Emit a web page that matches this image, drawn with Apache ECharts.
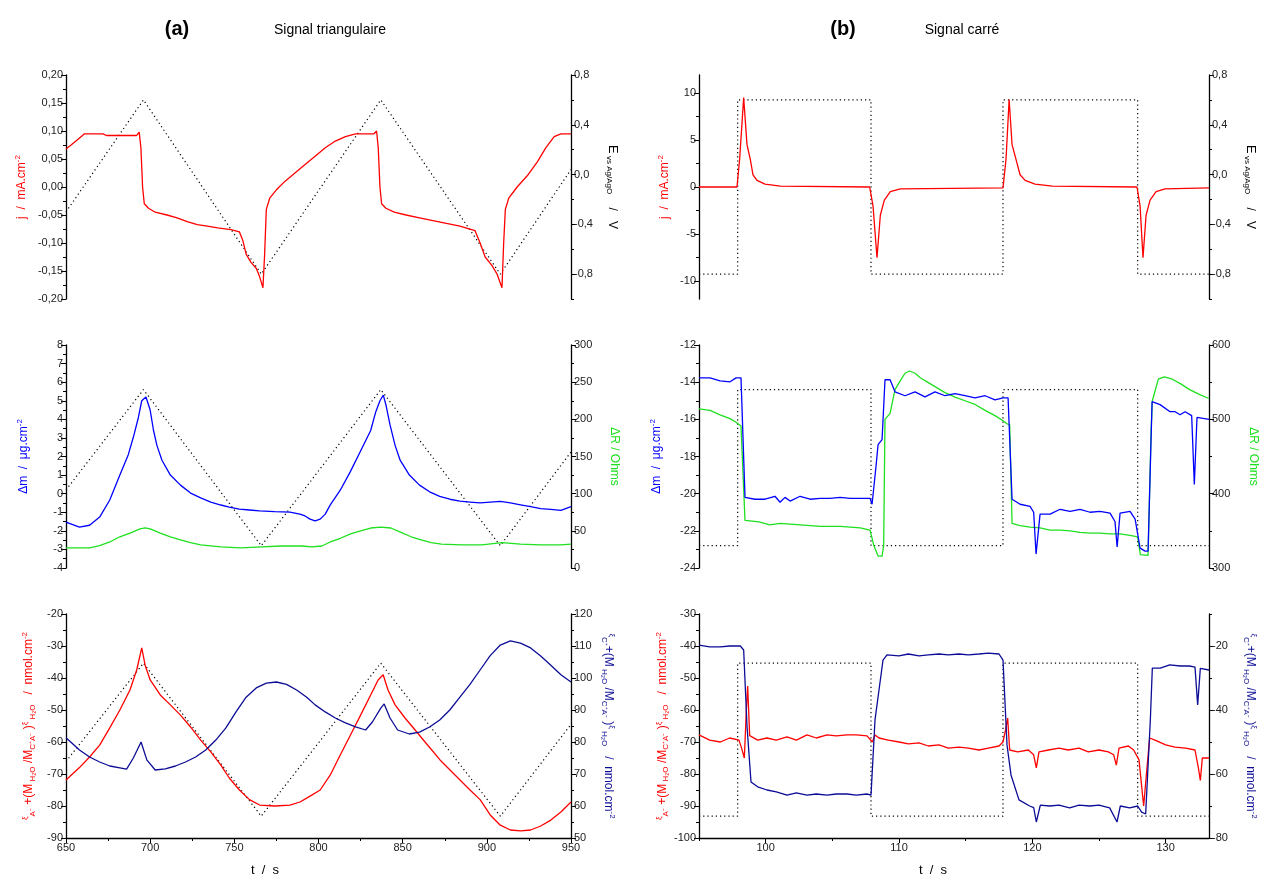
<!DOCTYPE html>
<html><head><meta charset="utf-8">
<script src="https://cdn.jsdelivr.net/npm/echarts@6/dist/echarts.min.js"></script>
<style>html,body{margin:0;padding:0;background:#fff}#c{width:1262px;height:875px}</style>
</head><body><div id="c"></div>
<script>
// ---------------- DATA ----------------
// (a) triangular signal, t in s
const triE = [[650,-0.3],[696,0.6],[766,-0.8],[837,0.6],[908,-0.8],[950,0.04]];
const triJ = [[650,0.068],[653,0.075],[657,0.085],[661,0.095],[672,0.095],[674,0.092],[692,0.092],[693.5,0.098],[694.5,0.07],[695.5,0.0],[696.5,-0.03],[699,-0.038],[703,-0.045],[710,-0.05],[716,-0.055],[722,-0.062],[728,-0.067],[734,-0.07],[740,-0.073],[748,-0.076],[753,-0.08],[755,-0.095],[757,-0.12],[760,-0.135],[763,-0.145],[765,-0.16],[767,-0.18],[768,-0.12],[769,-0.04],[771,-0.02],[775,-0.005],[780,0.01],[786,0.025],[792,0.04],[798,0.055],[804,0.07],[810,0.082],[816,0.09],[822,0.095],[833,0.095],[834.5,0.1],[835.5,0.07],[836.5,0.0],[837.5,-0.03],[840,-0.038],[845,-0.045],[852,-0.05],[860,-0.055],[868,-0.06],[876,-0.065],[884,-0.07],[893,-0.078],[896,-0.1],[899,-0.125],[903,-0.14],[906,-0.155],[909,-0.18],[910,-0.1],[911,-0.04],[913,-0.02],[918,0.0],[924,0.02],[930,0.045],[935,0.07],[940,0.09],[944,0.095],[950,0.095]];
const triDm = [[650,-1.53],[658,-1.8],[664,-1.7],[670,-1.26],[676,-0.34],[682,1.0],[687,2.1],[690.5,3.2],[693,4.1],[695,5.0],[697.5,5.2],[700,4.5],[702,3.4],[704,2.6],[707,1.8],[712,1.0],[718,0.46],[724,0.03],[730,-0.23],[736,-0.45],[742,-0.61],[747,-0.72],[753,-0.83],[759,-0.88],[765,-0.93],[774,-0.97],[783,-0.99],[789,-1.1],[792,-1.2],[795,-1.37],[798,-1.47],[801,-1.37],[804,-1.1],[807,-0.6],[813,0.2],[819,1.2],[825,2.3],[831,3.4],[834,4.4],[836.5,5.0],[838.5,5.3],[840,4.8],[842.5,3.7],[845.5,2.6],[848.5,1.8],[854,1.0],[860,0.46],[866,0.1],[872,-0.15],[878,-0.3],[884,-0.4],[890,-0.45],[896,-0.5],[902,-0.45],[908,-0.42],[914,-0.5],[920,-0.6],[926,-0.7],[932,-0.8],[938,-0.85],[944,-0.9],[950,-0.7]];
const triDR = [[650,27],[664,27],[670,30],[676,35],[682,42],[688,47],[694,52.5],[697,54],[700,52.5],[706,47],[712,42],[718,38],[724,34],[730,31],[742,28.3],[754,27],[766,28.3],[778,29.6],[790,29.6],[796,28.3],[802,29.6],[807,35],[813,40],[819,46],[825,50],[831,53.8],[837,55],[843,53.8],[849,48],[855,42],[861,38],[867,34],[873,32],[885,31],[897,31],[909,34],[920,32],[932,31],[944,31],[950,32]];
const triXiA = [[650,-71.9],[658,-68],[664,-64.7],[670,-61],[676,-55.6],[682,-50],[688,-43.75],[692,-37.5],[695,-30.6],[697,-36],[700,-40.6],[706,-45.3],[712,-48.4],[718,-51.6],[724,-55.3],[730,-59.4],[736,-63.1],[742,-67.2],[747,-71.25],[753,-75],[759,-78],[765,-79.7],[774,-80],[783,-79.7],[789,-78.75],[795,-76.9],[801,-75],[807,-70.3],[813,-64],[819,-57.8],[825,-51.6],[831,-45.3],[835.4,-40.6],[838.4,-39],[841.3,-43.75],[845.5,-48.4],[851.4,-52.5],[857.4,-56.25],[863.3,-60],[872.2,-65.6],[881.1,-70.3],[890,-75],[896,-78],[902,-82.8],[908,-86],[914,-87.5],[920,-87.8],[926,-87.5],[932,-86.25],[938,-84.4],[944,-81.9],[950,-78.75]];
const triXiC = [[650,81.3],[658,77.5],[664,75.3],[670,73.75],[676,72.5],[682,71.9],[686,71.5],[690,75],[694.6,80],[698,74.4],[703,71.25],[709,71.6],[715,72.5],[721,73.75],[727,75.3],[733,77.5],[739,80.6],[745,84.4],[751,89.4],[757,94],[763,96.9],[769,98.4],[775,98.75],[781,98],[787,96.25],[793,94],[798,91.6],[804,89.4],[810,87.5],[816,86],[822,84.7],[828,83.75],[832,86.25],[837,90.6],[839,91.9],[842.5,87.5],[847,83.75],[854,82.5],[860,83.1],[866,84.7],[872,86.9],[878,90],[884,94],[890,98],[896,102.5],[902,107],[908,110.3],[914,111.6],[920,110.9],[926,109.4],[932,106.9],[938,104],[944,101],[950,98.75]];

// (b) square signal
const sqE = [[95,-0.8],[97.9,-0.8],[97.9,0.6],[107.9,0.6],[107.9,-0.8],[117.8,-0.8],[117.8,0.6],[127.9,0.6],[127.9,-0.8],[133.25,-0.8]];
const sqJ = [[95,0],[97.85,0],[98.05,3],[98.35,9.5],[98.6,4.5],[98.85,2.9],[99.05,1.3],[99.35,0.7],[99.95,0.3],[101.1,0.1],[107.8,0.0],[108.05,-2],[108.35,-7.5],[108.6,-3],[108.9,-1.4],[109.35,-0.5],[110.1,-0.2],[117.8,-0.1],[118.03,3],[118.26,9.3],[118.48,4.5],[118.78,2.9],[119.08,1.3],[119.46,0.7],[120.2,0.3],[121.5,0.1],[127.85,0.0],[128.08,-2],[128.3,-7.5],[128.53,-3],[128.83,-1.4],[129.28,-0.5],[129.95,-0.2],[133.25,-0.1]];
const sqDm = [[95,-13.77],[95.83,-13.77],[96.58,-13.93],[97.33,-13.98],[97.78,-13.77],[98.15,-13.77],[98.45,-20.2],[99.2,-20.3],[99.95,-20.3],[100.7,-20.14],[101.08,-20.46],[101.45,-20.2],[101.83,-20.4],[102.58,-20.14],[103.33,-20.3],[104.08,-20.25],[104.83,-20.25],[105.58,-20.2],[106.33,-20.25],[107.08,-20.25],[107.83,-20.25],[107.98,-20.57],[108.28,-18.5],[108.43,-17.36],[108.73,-17.09],[108.95,-13.87],[109.33,-13.87],[109.7,-14.52],[110.45,-14.73],[111.2,-14.52],[111.95,-14.79],[112.7,-14.52],[113.45,-14.73],[114.2,-14.62],[114.95,-14.73],[115.7,-14.84],[116.46,-14.73],[117.2,-14.95],[117.8,-14.84],[118.18,-14.84],[118.48,-20.3],[119.08,-20.57],[119.83,-20.68],[120.1,-21],[120.28,-23.25],[120.58,-21.1],[121.33,-21.1],[122.08,-20.84],[122.83,-20.95],[123.58,-20.84],[124.33,-21.0],[125.08,-20.95],[125.83,-21.05],[126.2,-21.5],[126.36,-22.87],[126.58,-21.05],[127.33,-20.95],[127.71,-21.37],[128.08,-22.93],[128.46,-23.09],[128.68,-23.09],[128.98,-15.05],[129.58,-15.21],[130.33,-15.59],[130.71,-15.59],[131.08,-15.75],[131.46,-15.59],[131.95,-15.8],[132.15,-19.5],[132.35,-15.9],[133.25,-16.0]];
const sqDR = [[95,514],[95.83,512],[96.58,506],[97.33,501],[97.78,496],[98.15,491],[98.45,364],[99.5,362],[100.3,358],[101.1,360],[102.6,358],[104.1,356],[105.6,356],[107.1,354],[107.83,351],[108.1,331],[108.43,316],[108.73,316],[108.85,330],[108.95,500],[109.33,508],[109.7,540],[110.1,552],[110.45,562],[110.8,565],[111.2,562],[111.6,556],[111.95,552],[112.7,544],[113.45,536],[114.2,530],[114.95,525],[115.7,520],[116.46,512],[117.2,505],[117.8,498],[118.1,494],[118.3,493],[118.48,360],[119.08,357],[119.83,355],[120.58,354],[121.33,351],[122.08,351],[122.83,350],[123.58,348],[124.33,347],[125.08,347],[125.83,346],[126.58,346],[127.33,344],[127.9,342],[128.1,318],[128.68,317],[128.9,480],[129.0,525],[129.45,554],[129.9,557],[130.5,554],[131.1,548],[131.8,540],[132.6,533],[133.25,528]];
const sqXiA = [[95,-67.8],[95.8,-69.4],[96.6,-70],[97.3,-68.75],[98.0,-69.4],[98.2,-72],[98.4,-75],[98.55,-60],[98.65,-52.5],[98.8,-68],[99.4,-69.4],[100.1,-68.75],[100.8,-69.4],[101.6,-68.4],[102.3,-69.4],[103.1,-67.8],[103.8,-68.75],[104.6,-67.8],[105.3,-68.1],[106.1,-67.8],[106.8,-67.8],[107.6,-68.1],[108.0,-70],[108.2,-67.8],[108.5,-68.75],[109.2,-69.4],[110,-70],[110.7,-70.6],[111.5,-70.3],[112.2,-71.25],[113,-70.9],[113.7,-71.9],[114.5,-71.6],[115.2,-71.9],[116,-72.5],[116.7,-71.9],[117.5,-71.25],[117.8,-70],[118.0,-66],[118.15,-62.5],[118.3,-72.5],[118.9,-73.1],[119.7,-72.5],[120.1,-74],[120.3,-78.1],[120.5,-73.1],[121.2,-72.5],[122,-71.9],[122.7,-72.5],[123.5,-71.9],[124.2,-73.1],[125,-72.5],[125.7,-73.1],[126.1,-74],[126.3,-77.2],[126.5,-71.9],[127.2,-71.25],[127.6,-72.5],[128.0,-75.6],[128.35,-90],[128.6,-78],[128.8,-68.75],[129.2,-69.4],[130,-70.9],[130.7,-71.6],[131.5,-71.9],[132.2,-72.5],[132.45,-78],[132.6,-82],[132.75,-75],[133.25,-75]];
const sqXiC = [[95,-19.7],[95.8,-20.3],[96.6,-20.3],[97.3,-20],[98.1,-20],[98.35,-21.25],[98.6,-45],[98.9,-62.5],[99.4,-64],[100.1,-65],[100.8,-65.6],[101.6,-66.6],[102.3,-65.9],[103.1,-66.6],[103.8,-66.25],[104.6,-66.6],[105.3,-66.25],[106.1,-66.25],[106.8,-66.6],[107.6,-66.25],[107.9,-66.6],[108.2,-43.1],[108.5,-33.75],[108.8,-24.4],[109.1,-22.8],[110,-23.1],[110.7,-22.5],[111.5,-23.1],[112.2,-22.8],[113,-22.5],[113.7,-22.8],[114.5,-22.5],[115.2,-22.8],[116,-22.5],[116.7,-22.2],[117.5,-22.5],[117.8,-24.4],[118.1,-50.9],[118.4,-60.3],[119,-68.1],[119.8,-70],[120.1,-70.5],[120.3,-75],[120.6,-69.7],[121.3,-70],[122,-69.7],[122.8,-70.6],[123.5,-69.7],[124.3,-70],[125,-69.7],[125.8,-70.6],[126.35,-75],[126.6,-70],[127.3,-70.6],[127.9,-70],[128.2,-71.9],[128.5,-72.5],[128.85,-43.1],[129.0,-26.9],[129.6,-26.9],[130.3,-25.9],[131.1,-26.25],[131.8,-26.25],[132.2,-26.6],[132.4,-38.4],[132.6,-27],[133.25,-27.5]];

// tick labels (major) and minor tick positions
const xTriLabels = [650,700,750,800,850,900,950];
const xTriMinor = [675,725,775,825,875,925];
const xSqLabels = [100,110,120,130];
const xSqMinor = [95,105,115,125];
const jTriLabels = [-0.2,-0.15,-0.1,-0.05,0,0.05,0.1,0.15,0.2];
const jTriMinor = [-0.175,-0.125,-0.075,-0.025,0.025,0.075,0.125,0.175];
const eLabels = [-0.8,-0.4,0,0.4,0.8];
const eMinor = [-1.0,-0.6,-0.2,0.2,0.6];
const dmTriLabels = [-4,-3,-2,-1,0,1,2,3,4,5,6,7,8];
const dmTriMinor = [-3.5,-2.5,-1.5,-0.5,0.5,1.5,2.5,3.5,4.5,5.5,6.5,7.5];
const drTriLabels = [0,50,100,150,200,250,300];
const drTriMinor = [25,75,125,175,225,275];
const xiATriLabels = [-90,-80,-70,-60,-50,-40,-30,-20];
const xiATriMinor = [-85,-75,-65,-55,-45,-35,-25];
const xiCTriLabels = [50,60,70,80,90,100,110,120];
const xiCTriMinor = [55,65,75,85,95,105,115];
const jSqLabels = [-10,-5,0,5,10];
const jSqMinor = [-7.5,-2.5,2.5,7.5];
const dmSqLabels = [-24,-22,-20,-18,-16,-14,-12];
const dmSqMinor = [-23,-21,-19,-17,-15,-13];
const drSqLabels = [300,400,500,600];
const drSqMinor = [350,450,550];
const xiASqLabels = [-100,-90,-80,-70,-60,-50,-40,-30];
const xiASqMinor = [-95,-85,-75,-65,-55,-45,-35];
const xiCSqLabels = [-80,-60,-40,-20];
const xiCSqMinor = [-70,-50,-30,-10];

// ---------------- STYLE / LAYOUT ----------------
const FONT = 'Liberation Sans, Arial, Helvetica, sans-serif';
const RED = '#ff0000', BLUE = '#0000ff', NAVY = '#0c0c96', GREEN = '#1ee01e';
const colL = {left: 66, width: 505}, colR = {left: 699, width: 510};
const rows = [{top: 75, height: 224}, {top: 345, height: 223}, {top: 614, height: 224}];
const grids = [];
[colL, colR].forEach(c => rows.forEach(r => grids.push({left: c.left, width: c.width, top: r.top, height: r.height, containLabel: false})));

function fmt(v, dec) { if (Math.abs(v) < 1e-9) v = 0; return dec ? v.toFixed(dec).replace('.', ',') : String(v); }

function richFor(color) {
  return {
    m: {fontSize: 12, color, fontFamily: FONT},
    b: {fontSize: 13, color, fontFamily: FONT},
    sup: {fontSize: 8, color, fontFamily: FONT, padding: [0, 0, 8, 0]},
    s: {fontSize: 8, color, fontFamily: FONT, padding: [0, 0, 8, 0]},
    sub: {fontSize: 8, color, fontFamily: FONT, padding: [7, 0, 0, 0]}
  };
}

const yAxes = [];
function addY(grid, pos, min, max, labels, minor, dec, name, color, gap) {
  const idx = yAxes.length;
  yAxes.push({
    type: 'value', gridIndex: grid, position: pos, min, max,
    splitLine: {show: false},
    axisLine: {show: true, onZero: false, lineStyle: {color: '#000', width: 1.3}},
    axisTick: {show: true, customValues: labels, length: 5, lineStyle: {color: '#000', width: 1}},
    axisLabel: {show: true, customValues: labels, fontSize: 11, color: '#222', fontFamily: FONT, margin: 3,
      formatter: v => fmt(v, dec)},
    name, nameLocation: 'middle', nameGap: gap, nameRotate: pos === 'left' ? 90 : -90,
    nameTextStyle: {color, fontSize: 12, fontFamily: FONT, rich: richFor(color)}
  });
  yAxes.push({
    type: 'value', gridIndex: grid, position: pos, min, max,
    splitLine: {show: false}, axisLine: {show: false, onZero: false},
    axisTick: {show: true, customValues: minor, length: 3, lineStyle: {color: '#000', width: 1}},
    axisLabel: {show: false}
  });
  return idx;
}
function addHidden(grid, min, max) {
  const idx = yAxes.length;
  yAxes.push({type: 'value', gridIndex: grid, min, max, show: false, splitLine: {show: false}, axisLine: {onZero: false}});
  return idx;
}

const jName = '{m|j  /  mA.cm}{sup|-2}';
const eName = '{b|E}{sub| vs Ag/AgO}{m|    /   V}';
const dmName = '{m|Δm  /  μg.cm}{sup|-2}';
const drName = '{m|ΔR / Ohms}';
const xiAName = '{s|ξ}{sub|A⁻}{m| +(M}{sub| H₂O}{m| /M}{sub|C⁺A⁻}{m| )}{s|ξ}{sub| H₂O}{m|   /  nmol.cm}{sup|-2}';
const xiCName = '{s|ξ}{sub|C⁺}{m|+(M}{sub| H₂O}{m| /M}{sub|C⁺A⁻}{m| )}{s|ξ}{sub| H₂O}{m|   /  nmol.cm}{sup|-2}';

const yA_j = addY(0, 'left', -0.2, 0.2, jTriLabels, jTriMinor, 2, jName, RED, 36);
const yA_e = addY(0, 'right', -1.0, 0.8, eLabels, eMinor, 1, eName, '#000', 34);
const yA_dm = addY(1, 'left', -4, 8, dmTriLabels, dmTriMinor, 0, dmName, BLUE, 34);
const yA_dr = addY(1, 'right', 0, 300, drTriLabels, drTriMinor, 0, drName, GREEN, 37);
const yA_e1 = addHidden(1, -1.0, 1.0);
const yA_xa = addY(2, 'left', -90, -20, xiATriLabels, xiATriMinor, 0, xiAName, RED, 29);
const yA_xc = addY(2, 'right', 50, 120, xiCTriLabels, xiCTriMinor, 0, xiCName, NAVY, 29);
const yA_e2 = addHidden(2, -1.0, 1.05);
const yB_j = addY(3, 'left', -11.9, 11.9, jSqLabels, jSqMinor, 0, jName, RED, 26);
const yB_e = addY(3, 'right', -1.0, 0.8, eLabels, eMinor, 1, eName, '#000', 34);
const yB_dm = addY(4, 'left', -24, -12, dmSqLabels, dmSqMinor, 0, dmName, BLUE, 34);
const yB_dr = addY(4, 'right', 300, 600, drSqLabels, drSqMinor, 0, drName, GREEN, 38);
const yB_e1 = addHidden(4, -1.0, 1.0);
const yB_xa = addY(5, 'left', -100, -30, xiASqLabels, xiASqMinor, 0, xiAName, RED, 26);
const yB_xc = addY(5, 'right', -80, -10, xiCSqLabels, xiCSqMinor, 0, xiCName, NAVY, 33);
const yB_e2 = addHidden(5, -1.0, 1.05);

const xAxes = [];
function addX(grid, min, max, labels, minor, shown) {
  const idx = xAxes.length;
  xAxes.push({
    type: 'value', gridIndex: grid, min, max, position: 'bottom', show: shown,
    splitLine: {show: false},
    axisLine: {show: true, onZero: false, lineStyle: {color: '#000', width: 1.3}},
    axisTick: {show: true, customValues: labels, length: 5, lineStyle: {color: '#000'}},
    axisLabel: {customValues: labels, fontSize: 11, color: '#222', fontFamily: FONT, margin: 4}
  });
  if (shown) xAxes.push({
    type: 'value', gridIndex: grid, min, max, position: 'bottom',
    splitLine: {show: false}, axisLine: {show: false, onZero: false},
    axisTick: {show: true, customValues: minor, length: 3, lineStyle: {color: '#000'}},
    axisLabel: {show: false}
  });
  return idx;
}
const xA0 = addX(0, 650, 950, xTriLabels, xTriMinor, false);
const xA1 = addX(1, 650, 950, xTriLabels, xTriMinor, false);
const xA2 = addX(2, 650, 950, xTriLabels, xTriMinor, true);
const xB0 = addX(3, 95, 133.25, xSqLabels, xSqMinor, false);
const xB1 = addX(4, 95, 133.25, xSqLabels, xSqMinor, false);
const xB2 = addX(5, 95, 133.25, xSqLabels, xSqMinor, true);

function line(data, x, y, color, dotted) {
  return {type: 'line', data, xAxisIndex: x, yAxisIndex: y, showSymbol: false, symbol: 'none',
    silent: true, animation: false, z: dotted ? 1 : 3,
    lineStyle: {color, width: dotted ? 1.2 : 1.3, type: dotted ? [1.2, 3] : 'solid'}};
}

const series = [
  line(triE, xA0, yA_e, '#000', true),
  line(triJ, xA0, yA_j, RED),
  line(triE, xA1, yA_e1, '#000', true),
  line(triDR, xA1, yA_dr, GREEN),
  line(triDm, xA1, yA_dm, BLUE),
  line(triE, xA2, yA_e2, '#000', true),
  line(triXiA, xA2, yA_xa, RED),
  line(triXiC, xA2, yA_xc, NAVY),
  line(sqE, xB0, yB_e, '#000', true),
  line(sqJ, xB0, yB_j, RED),
  line(sqE, xB1, yB_e1, '#000', true),
  line(sqDR, xB1, yB_dr, GREEN),
  line(sqDm, xB1, yB_dm, BLUE),
  line(sqE, xB2, yB_e2, '#000', true),
  line(sqXiA, xB2, yB_xa, RED),
  line(sqXiC, xB2, yB_xc, NAVY)
];

function txt(x, y, text, size, weight) {
  return {type: 'text', x, y, style: {text, fill: '#000', font: (weight || 'normal') + ' ' + size + 'px ' + FONT,
    textAlign: 'center', textVerticalAlign: 'middle'}};
}

const chart = echarts.init(document.getElementById('c'), null, {renderer: 'canvas'});
chart.setOption({
  backgroundColor: '#fff',
  animation: false,
  grid: grids,
  xAxis: xAxes,
  yAxis: yAxes,
  series,
  graphic: [
    txt(177, 29, '(a)', 20, 'bold'),
    txt(330, 30, 'Signal triangulaire', 14),
    txt(843, 29, '(b)', 20, 'bold'),
    txt(962, 30, 'Signal carré', 14),
    txt(265, 870, 't  /  s', 13),
    txt(933, 870, 't  /  s', 13)
  ]
});
</script></body></html>
